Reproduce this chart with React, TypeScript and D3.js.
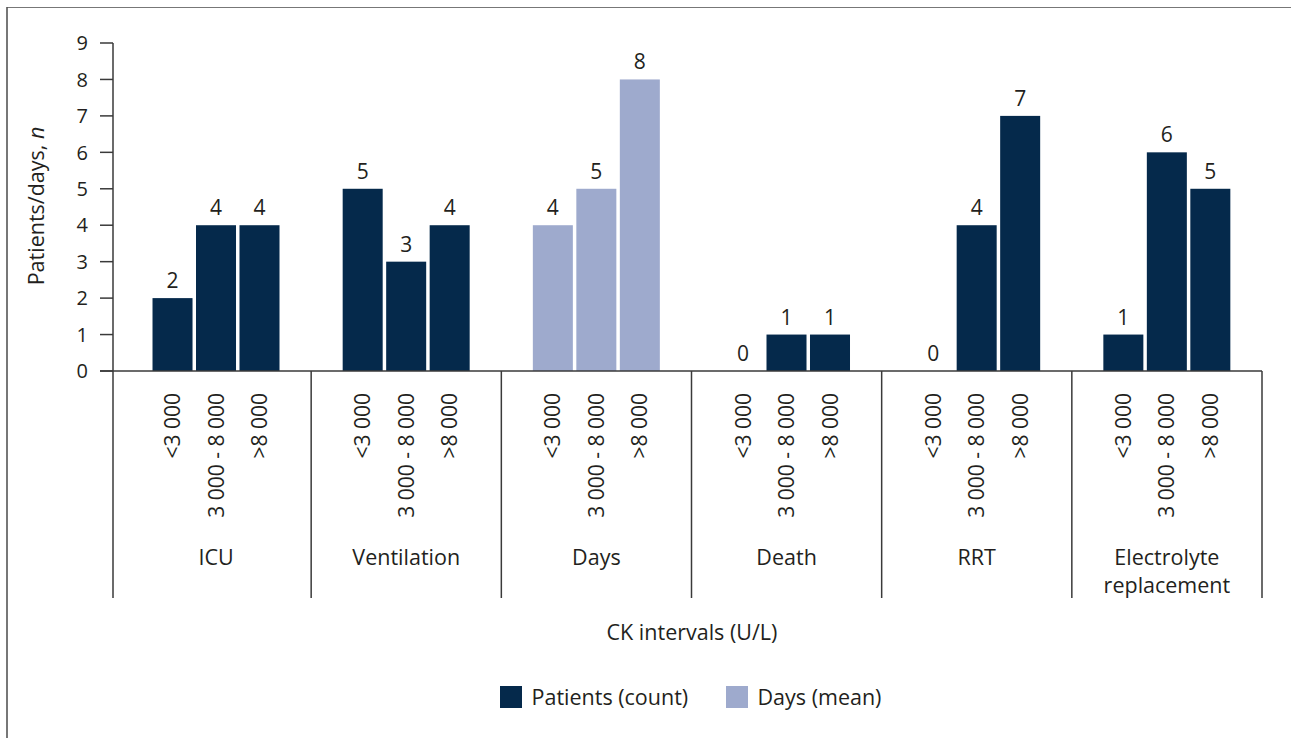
import React from 'react';
import * as d3 from 'd3';

const groups = ['ICU', 'Ventilation', 'Days', 'Death', 'RRT', 'Electrolyte replacement'];
const groupLines = [['ICU'], ['Ventilation'], ['Days'], ['Death'], ['RRT'], ['Electrolyte', 'replacement']];
const intervals = ['<3 000', '3 000 - 8 000', '>8 000'];
const values = [
  [2, 4, 4],
  [5, 3, 4],
  [4, 5, 8],
  [0, 1, 1],
  [0, 4, 7],
  [1, 6, 5],
];
const groupSeries = ['Patients (count)', 'Patients (count)', 'Days (mean)', 'Patients (count)', 'Patients (count)', 'Patients (count)'];
const legendItems = ['Patients (count)', 'Days (mean)'];
const yTicks = [0, 1, 2, 3, 4, 5, 6, 7, 8, 9];
const xTitle = 'CK intervals (U/L)';

const W = 1291;
const H = 738;
const FONT = "'Open Sans', sans-serif";
const TEXT = '#231f20';
const AXIS = '#3a3a3a';

export default function App() {
  React.useEffect(() => {
    document.body.style.margin = '0';
  }, []);

  const color = d3.scaleOrdinal<string, string>().domain(legendItems).range(['#05294b', '#9eaacd']);
  const y = d3.scaleLinear().domain([0, 9]).range([371, 43]);
  const x0 = d3.scaleBand<string>().domain(groups).range([121, 1262]).padding(0);
  const gw = x0.bandwidth();
  const x1 = d3.scaleBand<string>().domain(intervals).range([gw * 0.1657, gw * 0.8335]).paddingInner(0.08).paddingOuter(0);
  const axisX = 113;
  const baseY = y(0);
  const sepBottom = 598;

  const seps = [axisX, ...groups.map((g) => (x0(g) as number) + gw)];

  return (
    <svg width={W} height={H} style={{ display: 'block', background: '#fff' }} fontFamily={FONT}>
      {/* frame */}
      <line x1={7} y1={7.5} x2={W} y2={7.5} stroke="#777" strokeWidth={1.2} />
      <line x1={7} y1={7} x2={7} y2={H} stroke="#555" strokeWidth={1.6} />

      {/* bars */}
      {groups.map((g, gi) => (
        <g key={g} transform={`translate(${x0(g)},0)`}>
          {intervals.map((iv, ii) => {
            const v = values[gi][ii];
            const bx = x1(iv) as number;
            return (
              <g key={iv}>
                {v > 0 && (
                  <rect x={bx} y={y(v)} width={x1.bandwidth()} height={baseY - y(v)} fill={color(groupSeries[gi])} />
                )}
                <text x={bx + x1.bandwidth() / 2} y={y(v) - 10} textAnchor="middle" fontSize={21} fill={TEXT}>
                  {v}
                </text>
                <text
                  transform={`translate(${bx + x1.bandwidth() / 2},393) rotate(-90)`}
                  textAnchor="end"
                  dy="0.36em"
                  fontSize={21}
                  fill={TEXT}
                >
                  {iv}
                </text>
              </g>
            );
          })}
          {groupLines[gi].map((ln, li) => (
            <text key={li} x={gw / 2} y={565 + li * 28} textAnchor="middle" fontSize={21.5} fill={TEXT}>
              {ln}
            </text>
          ))}
        </g>
      ))}

      {/* axes */}
      <line x1={100} y1={baseY} x2={1262} y2={baseY} stroke={AXIS} strokeWidth={1.5} />
      <line x1={axisX} y1={y(9)} x2={axisX} y2={sepBottom} stroke={AXIS} strokeWidth={1.5} />
      {seps.slice(1).map((sx, i) => (
        <line key={i} x1={sx} y1={baseY} x2={sx} y2={sepBottom} stroke={AXIS} strokeWidth={1.5} />
      ))}
      {yTicks.map((t) => (
        <g key={t}>
          <line x1={100} y1={y(t)} x2={axisX} y2={y(t)} stroke={AXIS} strokeWidth={1.5} />
          <text x={88} y={y(t)} dy="0.36em" textAnchor="end" fontSize={20} fill={TEXT}>
            {t}
          </text>
        </g>
      ))}

      {/* y title */}
      <text transform="translate(36,206) rotate(-90)" textAnchor="middle" dy="0.36em" fontSize={21.5} fill={TEXT}>
        Patients/days, <tspan fontStyle="italic">n</tspan>
      </text>

      {/* x title */}
      <text x={692} y={640} textAnchor="middle" fontSize={21.5} fill={TEXT}>
        {xTitle}
      </text>

      {/* legend */}
      {legendItems.map((it, i) => {
        const lx = i === 0 ? 500 : 726;
        return (
          <g key={it}>
            <rect x={lx} y={686} width={22} height={22} fill={color(it)} />
            <text x={lx + 31.5} y={705} fontSize={21.5} fill={TEXT}>
              {it}
            </text>
          </g>
        );
      })}
    </svg>
  );
}
